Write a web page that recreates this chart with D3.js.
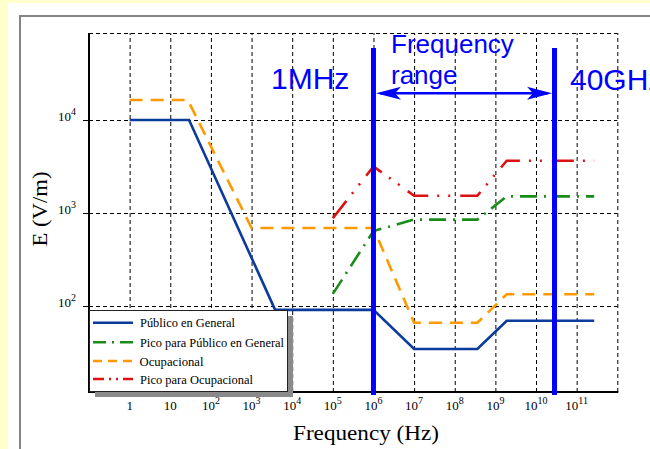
<!DOCTYPE html>
<html>
<head>
<meta charset="utf-8">
<script src="https://cdn.jsdelivr.net/npm/d3@7"></script>
<style>
  html, body { margin: 0; padding: 0; background: #ffffcc; }
  svg { display: block; }
</style>
</head>
<body>
<div id="chart"></div>
<script>
////////////////////////////////////////////////
// 1) DATA    //
////////////////////////////////////////////////
const xTickValues = [1, 1e1, 1e2, 1e3, 1e4, 1e5, 1e6, 1e7, 1e8, 1e9, 1e10, 1e11];
const xTickBase   = ["1", "10", "10", "10", "10", "10", "10", "10", "10", "10", "10", "10"];
const xTickExp    = ["", "", "2", "3", "4", "5", "6", "7", "8", "9", "10", "11"];

const yTickValues = [1e2, 1e3, 1e4];
const yTickBase   = ["10", "10", "10"];
const yTickExp    = ["2", "3", "4"];

// Público en General
const publicoFreq = [1, 29, 3800, 1e6, 1e7, 3.6e8, 1.9e9, 2.7e11];
const publicoE    = [10000, 10000, 91, 91, 34.5, 34.5, 69.5, 69.5];

// Pico para Público en General
const picoPublicoFreq = [1e5, 1e6, 1e7, 3.6e8, 1.9e9, 2.7e11];
const picoPublicoE    = [135, 640, 850, 850, 1510, 1510];

// Ocupacional
const ocupFreq = [1, 27, 1000, 1e6, 1e7, 3.6e8, 1.9e9, 2.7e11];
const ocupE    = [16400, 16400, 690, 690, 66, 66, 134, 134];

// Pico para Ocupacional
const picoOcupFreq = [1e5, 1e6, 1e7, 3.6e8, 1.9e9, 2.7e11];
const picoOcupE    = [880, 3170, 1535, 1535, 3650, 3650];

const seriesNames = ["Público en General", "Pico para Público en General",
                     "Ocupacional", "Pico para Ocupacional"];

// frequency range markers
const rangeFreq   = [1e6, 2.85e10];
const rangeLabels = ["1MHz", "40GHz"];

////////////////////////////////////
// 2) STYLES (kept apart from data)
////////////////////////////////////
const seriesStyle = {
  "Público en General":           { color: "#0b3b9b", dash: null,            legendDash: null,            textW: 95 },
  "Pico para Público en General": { color: "#1a8c1a", dash: "17,7,2,7",      legendDash: "13,6,2,6",      textW: 144 },
  "Ocupacional":                  { color: "#ff9900", dash: "13,8",          legendDash: "9,6",           textW: 64 },
  "Pico para Ocupacional":        { color: "#dd1111", dash: "22,9,2,9,2,10", legendDash: "11,5,2,5,2,5",  textW: 113 }
};
const serif = "'Liberation Serif', 'DejaVu Serif', serif";
const sans  = "'Liberation Sans', Arial, sans-serif";
const annotBlue = "#0000ff";

// build the series table from the arrays above
const series = [
  { name: seriesNames[0], pts: publicoFreq.map((f, i) => ({ f, e: publicoE[i] })) },
  { name: seriesNames[1], pts: picoPublicoFreq.map((f, i) => ({ f, e: picoPublicoE[i] })) },
  { name: seriesNames[2], pts: ocupFreq.map((f, i) => ({ f, e: ocupE[i] })) },
  { name: seriesNames[3], pts: picoOcupFreq.map((f, i) => ({ f, e: picoOcupE[i] })) }
];

///////////////////////////
// 3) SVG + BACKGROUND   //
///////////////////////////
const width = 650, height = 449;
const plot = { left: 89, right: 617.3, top: 33, bottom: 392 };

const svg = d3.select("#chart").append("svg")
  .attr("width", width)
  .attr("height", height);

svg.append("rect")
  .attr("width", width).attr("height", height)
  .attr("fill", "#ffffcc");

// white slide panel + grey frame
svg.append("rect")
  .attr("x", 8).attr("y", 3)
  .attr("width", width).attr("height", height)
  .attr("fill", "#ffffff");
svg.append("rect")
  .attr("x", 20).attr("y", 16)
  .attr("width", 700).attr("height", 500)
  .attr("fill", "none")
  .attr("stroke", "#858585")
  .attr("stroke-width", 2);

///////////////////
// 4) SCALES     //
///////////////////
const xScale = d3.scaleLog()
  .domain([0.1, 1e12])
  .range([plot.left, plot.right]);

const yScale = d3.scaleLog()
  .domain([11.9, 86200])
  .range([plot.bottom, plot.top]);

const g = svg.append("g");

////////////////////////
// 5) DASHED GRID     //
////////////////////////
const gridX = g.append("g")
  .attr("transform", `translate(0,${plot.bottom})`)
  .call(d3.axisBottom(xScale)
    .tickValues(xTickValues.concat([1e12]))
    .tickSizeInner(-(plot.bottom - plot.top))
    .tickSizeOuter(0)
    .tickFormat(() => ""));
gridX.select(".domain").remove();
gridX.selectAll(".tick line")
  .attr("stroke", "#000")
  .attr("stroke-dasharray", "4,3");

const gridY = g.append("g")
  .attr("transform", `translate(${plot.left},0)`)
  .call(d3.axisLeft(yScale)
    .tickValues(yTickValues)
    .tickSizeInner(-(plot.right - plot.left))
    .tickSizeOuter(0)
    .tickFormat(() => ""));
gridY.select(".domain").remove();
gridY.selectAll(".tick line")
  .attr("stroke", "#000")
  .attr("stroke-dasharray", "4,3");

// dashed top border
g.append("line")
  .attr("x1", plot.left).attr("x2", plot.right)
  .attr("y1", plot.top + 0.5).attr("y2", plot.top + 0.5)
  .attr("stroke", "#000")
  .attr("stroke-dasharray", "4,3");

/////////////////////
// 6) SERIES LINES //
/////////////////////
const line = d3.line()
  .x(d => xScale(d.f))
  .y(d => yScale(d.e));

[series[2], series[3], series[1], series[0]].forEach(s => {
  const st = seriesStyle[s.name];
  g.append("path")
    .datum(s.pts)
    .attr("fill", "none")
    .attr("stroke", st.color)
    .attr("stroke-width", 2.6)
    .attr("stroke-dasharray", st.dash)
    .attr("d", line);
});

//////////////////////////
// 7) AXES + TICK TEXT  //
//////////////////////////
// y ticks (small solid marks left of the axis)
const yAxis = g.append("g")
  .attr("transform", `translate(${plot.left},0)`)
  .call(d3.axisLeft(yScale)
    .tickValues(yTickValues)
    .tickSizeInner(6)
    .tickSizeOuter(0)
    .tickFormat(() => ""));
yAxis.select(".domain").remove();
yAxis.selectAll(".tick line").attr("stroke", "#000");

yTickValues.forEach((v, i) => {
  const t = g.append("text")
    .attr("x", 76)
    .attr("y", yScale(v) + 1)
    .attr("text-anchor", "end")
    .attr("font-family", serif)
    .attr("font-size", 13)
    .attr("fill", "#000");
  t.append("tspan").text(yTickBase[i]);
  t.append("tspan")
    .attr("font-size", 10)
    .attr("dy", -6)
    .text(yTickExp[i]);
});

xTickValues.forEach((v, i) => {
  const t = g.append("text")
    .attr("x", xScale(v))
    .attr("y", 410)
    .attr("text-anchor", "middle")
    .attr("font-family", serif)
    .attr("font-size", 13)
    .attr("fill", "#000");
  t.append("tspan").text(xTickBase[i]);
  if (xTickExp[i]) {
    t.append("tspan")
      .attr("font-size", 10)
      .attr("dy", -6)
      .text(xTickExp[i]);
  }
});

// solid left and bottom axis lines
g.append("line")
  .attr("x1", plot.left).attr("x2", plot.left)
  .attr("y1", plot.top).attr("y2", plot.bottom + 1)
  .attr("stroke", "#000").attr("stroke-width", 2);
g.append("line")
  .attr("x1", plot.left).attr("x2", plot.right + 1)
  .attr("y1", plot.bottom).attr("y2", plot.bottom)
  .attr("stroke", "#000").attr("stroke-width", 2);

// axis titles
g.append("text")
  .attr("x", 366)
  .attr("y", 440)
  .attr("text-anchor", "middle")
  .attr("font-family", serif)
  .attr("font-size", 20)
  .attr("textLength", 146)
  .attr("lengthAdjust", "spacingAndGlyphs")
  .text("Frequency (Hz)");

g.append("text")
  .attr("transform", "translate(47,209) rotate(-90)")
  .attr("text-anchor", "middle")
  .attr("font-family", serif)
  .attr("font-size", 20)
  .attr("textLength", 75)
  .attr("lengthAdjust", "spacingAndGlyphs")
  .text("E (V/m)");

/////////////////
// 8) LEGEND   //
/////////////////
const lg = { x: 89, y: 310, w: 198, h: 81 };
svg.append("rect")
  .attr("x", lg.x + 6).attr("y", lg.y + 6)
  .attr("width", lg.w).attr("height", lg.h)
  .attr("fill", "#8a8a8a");
svg.append("rect")
  .attr("x", lg.x + 0.5).attr("y", lg.y + 0.5)
  .attr("width", lg.w).attr("height", lg.h)
  .attr("fill", "#fff")
  .attr("stroke", "#222")
  .attr("stroke-width", 1);

const legendRowY = [322.7, 342.3, 361, 379];
seriesNames.forEach((name, i) => {
  const st = seriesStyle[name];
  svg.append("line")
    .attr("x1", 93).attr("x2", 133)
    .attr("y1", legendRowY[i]).attr("y2", legendRowY[i])
    .attr("stroke", st.color)
    .attr("stroke-width", 2.4)
    .attr("stroke-dasharray", st.legendDash);
  svg.append("text")
    .attr("x", i === 2 ? 139.5 : 140)
    .attr("y", legendRowY[i] + 4.5)
    .attr("font-family", serif)
    .attr("font-size", 12)
    .attr("textLength", st.textW)
    .attr("lengthAdjust", "spacingAndGlyphs")
    .attr("fill", "#000")
    .text(name);
});

/////////////////////////////////
// 9) FREQUENCY RANGE MARKERS  //
/////////////////////////////////
rangeFreq.forEach(f => {
  svg.append("line")
    .attr("x1", xScale(f)).attr("x2", xScale(f))
    .attr("y1", 48).attr("y2", 395)
    .attr("stroke", annotBlue)
    .attr("stroke-width", 5);
});

// double-headed arrow between the two markers
const ay = 93.3;
const ax0 = xScale(rangeFreq[0]) + 2.5;
const ax1 = xScale(rangeFreq[1]) - 2.5;
svg.append("line")
  .attr("x1", ax0 + 4).attr("x2", ax1 - 4)
  .attr("y1", ay).attr("y2", ay)
  .attr("stroke", annotBlue)
  .attr("stroke-width", 2.5);

function arrowHead(tipX, dir) {
  const p = d3.path();
  p.moveTo(tipX, ay);
  p.lineTo(tipX + dir * 25, ay - 6.5);
  p.lineTo(tipX + dir * 19, ay);
  p.lineTo(tipX + dir * 25, ay + 6.5);
  p.closePath();
  svg.append("path").attr("d", p.toString()).attr("fill", annotBlue);
}
arrowHead(ax0, 1);
arrowHead(ax1, -1);

// labels (40GHz runs off the right edge, as in the slide)
svg.append("text")
  .attr("x", 271).attr("y", 89)
  .attr("font-family", sans).attr("font-size", 30)
  .attr("fill", annotBlue)
  .text(rangeLabels[0]);
svg.append("text")
  .attr("x", 570).attr("y", 90)
  .attr("font-family", sans).attr("font-size", 30)
  .attr("fill", annotBlue)
  .text(rangeLabels[1]);
svg.append("text")
  .attr("x", 391).attr("y", 53)
  .attr("font-family", sans).attr("font-size", 26)
  .attr("fill", annotBlue)
  .text("Frequency");
svg.append("text")
  .attr("x", 391).attr("y", 84)
  .attr("font-family", sans).attr("font-size", 26)
  .attr("fill", annotBlue)
  .text("range");
</script>
</body>
</html>
